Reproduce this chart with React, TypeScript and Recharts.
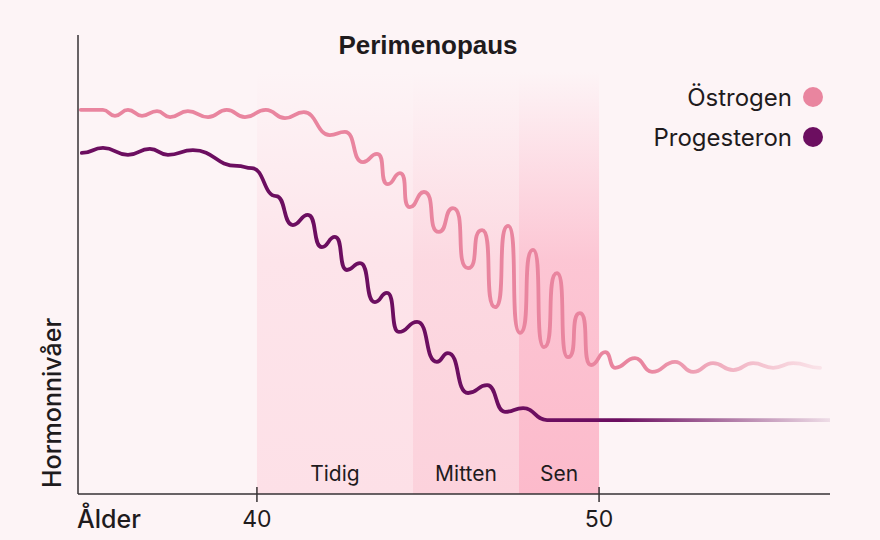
import { ComposedChart, Line, XAxis, YAxis, ReferenceArea } from 'recharts';

// Hormone curves, age (years) vs relative level (0-100).
// Points sit on the crests and troughs of each wave.
const estrogenAge = [
  34.85, 35.5, 35.85, 36.23, 36.64, 37.08, 37.46, 37.98, 38.57, 39.12, 39.65, 40.26, 40.82, 41.37,
  42.13, 42.57, 43.1, 43.51, 43.83, 44.18, 44.47, 44.88, 45.32, 45.73, 46.17, 46.58, 46.96, 47.34,
  47.69, 48.07, 48.39, 48.77, 49.09, 49.44, 49.77, 50.18, 50.47, 51.05, 51.55, 52.22, 52.75, 53.33,
  53.92, 54.5, 55.09, 55.67, 56.46,
];
const estrogenLevel = [
  83.7, 83.7, 82.4, 83.7, 82.4, 83.4, 82.1, 83.4, 82.1, 83.7, 82.1, 83.7, 81.9, 83.2,
  78.2, 78.9, 72.3, 74.1, 67.5, 69.9, 62.5, 65.8, 57.1, 62.3, 49.2, 57.5, 40.7, 58.4,
  35.1, 53.2, 32.0, 48.1, 29.8, 39.4, 28.1, 30.9, 27.5, 29.6, 26.6, 28.8, 26.6, 28.5,
  27.0, 28.5, 27.5, 28.5, 27.5,
];

const progesteroneAge = [
  34.88, 35.5, 36.23, 36.87, 37.4, 38.13, 39.42, 39.85, 40.56, 41.05, 41.49, 41.9, 42.28, 42.63,
  43.01, 43.45, 43.8, 44.15, 44.68, 45.26, 45.58, 46.17, 46.73, 47.25, 47.78, 48.48, 56.75,
];
const progesteroneLevel = [
  74.3, 75.4, 73.9, 75.2, 73.9, 74.9, 71.5, 71.0, 64.9, 58.6, 60.8, 53.8, 56.0, 48.8,
  50.3, 41.8, 43.8, 35.3, 37.5, 28.8, 30.7, 22.0, 23.7, 17.9, 18.7, 16.1, 16.1,
];

const phaseNames = ['Tidig', 'Mitten', 'Sen'];
const phaseStart = [40, 44.56, 47.66];
const phaseEnd = [44.56, 47.66, 50];
const phaseColors = ['#fde0e7', '#fcd2dc', '#fcbacb'];

const ageTicks = [40, 50];
const seriesNames = ['Östrogen', 'Progesteron'];
const seriesColors = ['#e9859f', '#6c0e60'];

const estrogenData = estrogenAge.map((age, i) => ({ age, level: estrogenLevel[i] }));
const progesteroneData = progesteroneAge.map((age, i) => ({ age, level: progesteroneLevel[i] }));

const BG = '#fdf4f6';
const INK = '#1f1b1d';
const AXIS = '#363234';
const FONT = 'Inter, "Noto Sans", sans-serif';

// Curve factory: each point is a flat crest/trough joined by a cubic with
// horizontal tangents. The steeper the step, the further the handles reach,
// so tall swings get upright sides and wide rounded caps.
const waveCurve = (maxReach: number) => (context: any) => {
  let pts: number[][] = [];
  return {
    areaStart() {},
    areaEnd() {},
    lineStart() {
      pts = [];
    },
    point(x: number, y: number) {
      pts.push([+x, +y]);
    },
    lineEnd() {
      if (!pts.length) return;
      context.moveTo(pts[0][0], pts[0][1]);
      for (let i = 1; i < pts.length; i++) {
        const [x0, y0] = pts[i - 1];
        const [x1, y1] = pts[i];
        const dx = x1 - x0;
        const steep = Math.min(1, Math.max(0, (Math.abs(y1 - y0) / dx - 1) / 2));
        const k = 0.5 + (maxReach - 0.5) * steep;
        context.bezierCurveTo(x0 + k * dx, y0, x1 - k * dx, y1, x1, y1);
      }
    },
  };
};

const AgeTick = ({ x, y, payload }: any) => (
  <g>
    <line x1={x} x2={x} y1={y - 7} y2={y + 8} stroke={AXIS} strokeWidth={1.5} />
    <text x={x} y={y + 33} textAnchor="middle" fontSize={23} fill={INK} fontFamily={FONT}>
      {payload.value}
    </text>
  </g>
);

export default function App() {
  return (
    <div
      style={{
        position: 'absolute',
        left: 0,
        top: 0,
        width: 880,
        height: 540,
        background: BG,
        overflow: 'hidden',
      }}
    >
      <ComposedChart width={880} height={540} margin={{ top: 35, right: 50, left: 0, bottom: 0 }}>
        <defs>
          {phaseColors.map((c, i) => (
            <linearGradient key={i} id={`band${i}`} x1="0" y1="0" x2="0" y2="1">
              <stop offset="0%" stopColor={c} stopOpacity={0} />
              <stop offset="45%" stopColor={c} stopOpacity={0.8} />
              <stop offset="100%" stopColor={c} stopOpacity={1} />
            </linearGradient>
          ))}
          <linearGradient id="estrogenFade" x1="0" y1="0" x2="1" y2="0">
            <stop offset="0%" stopColor={seriesColors[0]} stopOpacity={1} />
            <stop offset="76%" stopColor={seriesColors[0]} stopOpacity={1} />
            <stop offset="100%" stopColor={seriesColors[0]} stopOpacity={0.15} />
          </linearGradient>
          <linearGradient id="progesteroneFade" x1="0" y1="0" x2="1" y2="0">
            <stop offset="0%" stopColor={seriesColors[1]} stopOpacity={1} />
            <stop offset="72%" stopColor={seriesColors[1]} stopOpacity={1} />
            <stop offset="100%" stopColor={seriesColors[1]} stopOpacity={0.1} />
          </linearGradient>
        </defs>
        <XAxis
          dataKey="age"
          type="number"
          domain={[34.77, 56.75]}
          ticks={ageTicks}
          allowDataOverflow
          height={46}
          tickSize={0}
          tickMargin={0}
          tickLine={false}
          tick={<AgeTick />}
          axisLine={{ stroke: AXIS, strokeWidth: 1.5 }}
        />
        <YAxis
          type="number"
          domain={[0, 100]}
          width={78}
          tick={false}
          tickLine={false}
          axisLine={{ stroke: AXIS, strokeWidth: 1.5 }}
        />
        {phaseNames.map((name, i) => (
          <ReferenceArea
            key={name}
            x1={phaseStart[i]}
            x2={phaseEnd[i]}
            y1={0}
            y2={92}
            fill={`url(#band${i})`}
            fillOpacity={1}
            stroke="none"
            label={{
              value: name,
              position: 'insideBottom',
              offset: 13,
              fill: INK,
              fontSize: 21,
              fontFamily: FONT,
            }}
          />
        ))}
        <Line
          data={estrogenData}
          dataKey="level"
          name={seriesNames[0]}
          type={waveCurve(0.9) as any}
          stroke="url(#estrogenFade)"
          strokeWidth={3.8}
          strokeLinecap="round"
          strokeLinejoin="round"
          dot={false}
          activeDot={false}
          isAnimationActive={false}
        />
        <Line
          data={progesteroneData}
          dataKey="level"
          name={seriesNames[1]}
          type={waveCurve(0.75) as any}
          stroke="url(#progesteroneFade)"
          strokeWidth={3.8}
          strokeLinecap="round"
          strokeLinejoin="round"
          dot={false}
          activeDot={false}
          isAnimationActive={false}
        />
      </ComposedChart>
      <svg
        width={880}
        height={540}
        style={{ position: 'absolute', left: 0, top: 0, pointerEvents: 'none' }}
      >
        <text
          x={428}
          y={54}
          textAnchor="middle"
          fontSize={26}
          fontWeight={700}
          fill={INK}
          fontFamily='"Liberation Sans", Arial, sans-serif'
        >
          Perimenopaus
        </text>
        {seriesNames.map((name, i) => (
          <g key={name}>
            <text
              x={792}
              y={106 + i * 40}
              textAnchor="end"
              fontSize={24}
              fill={INK}
              fontFamily={FONT}
            >
              {name}
            </text>
            <circle cx={813} cy={97 + i * 40} r={10} fill={seriesColors[i]} />
          </g>
        ))}
        <text x={77} y={528} fontSize={25} fontWeight={500} fill={INK} fontFamily={FONT}>
          Ålder
        </text>
        <text
          transform="translate(61 403) rotate(-90)"
          textAnchor="middle"
          fontSize={25}
          fontWeight={500}
          fill={INK}
          fontFamily={FONT}
        >
          Hormonnivåer
        </text>
      </svg>
    </div>
  );
}
